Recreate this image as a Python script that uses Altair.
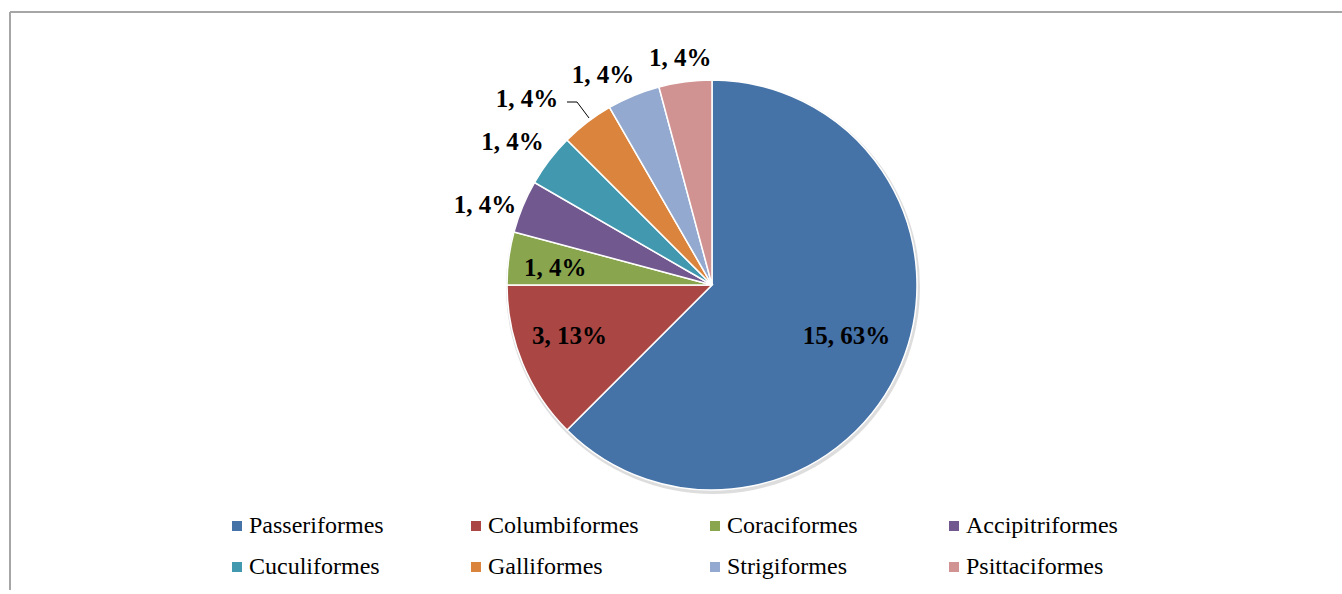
import altair as alt
import pandas as pd

orders = ["Passeriformes", "Columbiformes", "Coraciformes", "Accipitriformes",
          "Cuculiformes", "Galliformes", "Strigiformes", "Psittaciformes"]
counts = [15, 3, 1, 1, 1, 1, 1, 1]
percents = [63, 13, 4, 4, 4, 4, 4, 4]
colors = ["#4572A7", "#AA4643", "#89A54E", "#71588F",
          "#4198AF", "#DB843D", "#93A9CF", "#D19392"]

total = sum(counts)
df = pd.DataFrame({
    "order": orders,
    "count": counts,
    "pct": percents,
    "idx": list(range(len(orders))),
})
df["label"] = [f"{c}, {p}%" for c, p in zip(counts, percents)]

PAD_L, PAD_T = 10, 12
W, H = 1342 - PAD_L, 578
CX, CY = 712 - PAD_L, 285 - PAD_T
R = 205
FONT = "Liberation Serif"

theta_scale = alt.Scale(domain=[0, total])

base = alt.Chart(df)

shadow = alt.Chart(alt.Data(values=[{}])).mark_arc(
    theta=0, theta2=6.2832, outerRadius=R + 2, color="#cfcfcf", opacity=0.7
).encode(x=alt.value(CX + 1), y=alt.value(CY + 2))

arcs = base.mark_arc(outerRadius=R, stroke="white", strokeWidth=1.5).encode(
    theta=alt.Theta("count:Q", stack=True, scale=theta_scale),
    order=alt.Order("idx:Q", sort="ascending"),
    color=alt.Color(
        "order:N",
        scale=alt.Scale(domain=orders, range=colors),
        sort=orders,
        legend=alt.Legend(
            orient="none", legendX=215, legendY=502, columns=4, direction="horizontal",
            title=None, symbolType="square", symbolSize=100, symbolStrokeWidth=0,
            labelFont=FONT, labelFontSize=24, labelColor="black", labelOffset=0,
            columnPadding=63, rowPadding=17, gridAlign="all", padding=0,
            labelLimit=400,
        ),
    ),
    x=alt.value(CX),
    y=alt.value(CY),
)

lab = base.transform_window(
    cum="sum(count)", sort=[alt.SortField("idx", order="ascending")]
).transform_calculate(mid="datum.cum - datum.count / 2")

def text_layer(flt, radius, dx=0, dy=0):
    return lab.transform_filter(flt).mark_text(
        radius=radius, font=FONT, fontSize=25, fontWeight="bold", color="black",
        align="center", baseline="middle", dx=dx, dy=dy,
    ).encode(
        theta=alt.Theta("mid:Q", stack=None, scale=theta_scale),
        text="label:N",
        x=alt.value(CX),
        y=alt.value(CY),
    )

# label placement offsets (style only), keyed by slice index
outside_offsets = {3: (-10, 10), 4: (-13, 0), 5: (-39, 4), 6: (-19, 7), 7: (-1, 6)}

layers = [
    text_layer("datum.idx < 2", 150, dx=-4, dy=-6),
    text_layer("datum.idx == 2", 158, dy=4),
]
for i, (ddx, ddy) in outside_offsets.items():
    layers.append(text_layer(f"datum.idx == {i}", 235 if i != 5 else 240, dx=ddx, dy=ddy))

frame_data = alt.Data(values=[{}])
left_rule = alt.Chart(frame_data).mark_rule(color="#A6A6A6", strokeWidth=2).encode(x=alt.value(0))
top_rule = alt.Chart(frame_data).mark_rule(color="#A6A6A6", strokeWidth=2).encode(y=alt.value(0))

# leader line for the Galliformes label
leader1 = alt.Chart(frame_data).mark_rule(color="black", strokeWidth=1).encode(
    x=alt.value(CX - 145), x2=alt.value(CX - 135), y=alt.value(CY - 183), y2=alt.value(CY - 183))
leader2 = alt.Chart(frame_data).mark_rule(color="black", strokeWidth=1).encode(
    x=alt.value(CX - 135), x2=alt.value(CX - 123), y=alt.value(CY - 183), y2=alt.value(CY - 167))

chart = alt.layer(left_rule, top_rule, shadow, arcs, leader1, leader2, *layers).properties(
    width=W, height=H,
    padding={"left": PAD_L, "top": PAD_T, "right": 0, "bottom": 0},
    autosize=alt.AutoSizeParams(type="none"),
    background="white",
).configure_view(strokeWidth=0)

chart.save("out.html", embed_options={"renderer": "svg", "actions": False})
